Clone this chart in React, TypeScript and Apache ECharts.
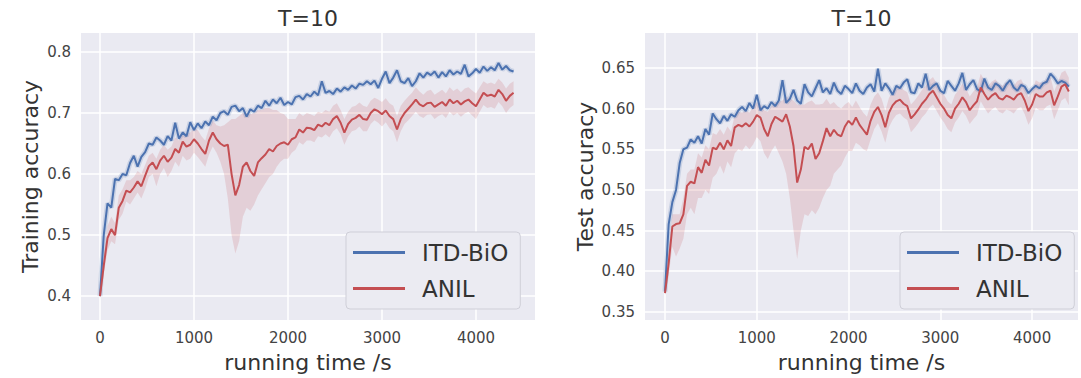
import React, { useEffect, useRef } from "react";
import * as echarts from "echarts";

// sample spacing of the recorded curves (seconds)
const SAMPLE_STEP_S = 40;

const X_TICKS = [0, 1000, 2000, 3000, 4000];
const TRAIN_Y_TICKS = [0.4, 0.5, 0.6, 0.7, 0.8];
const TEST_Y_TICKS = [0.35, 0.4, 0.45, 0.5, 0.55, 0.6, 0.65];

const LEGEND_NAMES = ["ITD-BiO", "ANIL"];
const TITLES = ["T=10", "T=10"];
const Y_NAMES = ["Training accuracy", "Test accuracy"];
const X_NAME = "running time /s";

// Training accuracy (left)
const TRAIN_ITD = [
  0.400, 0.500, 0.552, 0.545, 0.592, 0.590, 0.600, 0.598, 0.618, 0.630,
  0.612, 0.628, 0.636, 0.650, 0.648, 0.660, 0.655, 0.648, 0.662, 0.655,
  0.684, 0.658, 0.668, 0.662, 0.685, 0.672, 0.683, 0.675, 0.686, 0.680,
  0.694, 0.688, 0.700, 0.703, 0.697, 0.710, 0.712, 0.703, 0.708, 0.694,
  0.706, 0.702, 0.712, 0.708, 0.720, 0.712, 0.722, 0.716, 0.725, 0.713,
  0.718, 0.714, 0.726, 0.728, 0.722, 0.731, 0.727, 0.735, 0.729, 0.752,
  0.733, 0.736, 0.731, 0.740, 0.735, 0.742, 0.738, 0.745, 0.740, 0.748,
  0.746, 0.752, 0.747, 0.753, 0.741, 0.756, 0.768, 0.749, 0.758, 0.770,
  0.752, 0.749, 0.757, 0.744, 0.752, 0.765, 0.758, 0.766, 0.762, 0.768,
  0.758, 0.767, 0.760, 0.770, 0.763, 0.768, 0.764, 0.779, 0.760, 0.765,
  0.772, 0.766, 0.776, 0.769, 0.775, 0.770, 0.782, 0.771, 0.777, 0.770,
  0.768,
];
const TRAIN_ANIL = [
  0.400, 0.450, 0.495, 0.510, 0.500, 0.545, 0.556, 0.573, 0.570, 0.578,
  0.588, 0.580, 0.597, 0.613, 0.619, 0.608, 0.622, 0.630, 0.620, 0.627,
  0.641, 0.635, 0.653, 0.645, 0.648, 0.657, 0.650, 0.641, 0.633, 0.655,
  0.668, 0.657, 0.650, 0.646, 0.648, 0.600, 0.565, 0.582, 0.612, 0.619,
  0.605, 0.597, 0.619, 0.626, 0.632, 0.641, 0.637, 0.646, 0.650, 0.652,
  0.648, 0.657, 0.660, 0.673, 0.668, 0.676, 0.675, 0.672, 0.681, 0.678,
  0.684, 0.680, 0.690, 0.695, 0.684, 0.668, 0.682, 0.689, 0.692, 0.697,
  0.690, 0.689, 0.700, 0.706, 0.703, 0.698, 0.704, 0.695, 0.690, 0.673,
  0.690, 0.700, 0.707, 0.714, 0.722, 0.714, 0.711, 0.716, 0.717, 0.710,
  0.714, 0.718, 0.712, 0.722, 0.716, 0.720, 0.714, 0.719, 0.722, 0.716,
  0.711, 0.722, 0.733, 0.728, 0.730, 0.727, 0.738, 0.731, 0.720, 0.728,
  0.733,
];
const TRAIN_ANIL_LOW = [
  0.395, 0.435, 0.475, 0.490, 0.485, 0.525, 0.535, 0.555, 0.550, 0.560,
  0.570, 0.560, 0.575, 0.595, 0.600, 0.580, 0.600, 0.610, 0.595, 0.605,
  0.620, 0.612, 0.630, 0.622, 0.625, 0.635, 0.628, 0.620, 0.612, 0.632,
  0.645, 0.635, 0.620, 0.600, 0.560, 0.500, 0.470, 0.490, 0.530, 0.545,
  0.540, 0.550, 0.565, 0.575, 0.585, 0.595, 0.600, 0.612, 0.620, 0.625,
  0.625, 0.635, 0.640, 0.652, 0.648, 0.655, 0.655, 0.652, 0.662, 0.660,
  0.665, 0.660, 0.670, 0.675, 0.665, 0.648, 0.662, 0.670, 0.672, 0.678,
  0.670, 0.670, 0.682, 0.688, 0.684, 0.678, 0.685, 0.675, 0.670, 0.652,
  0.670, 0.682, 0.688, 0.695, 0.702, 0.695, 0.692, 0.697, 0.698, 0.690,
  0.695, 0.698, 0.692, 0.702, 0.696, 0.700, 0.694, 0.699, 0.702, 0.696,
  0.690, 0.702, 0.713, 0.708, 0.710, 0.707, 0.718, 0.711, 0.700, 0.708,
  0.713,
];
const TRAIN_ANIL_HIGH = [
  0.405, 0.465, 0.515, 0.530, 0.520, 0.565, 0.575, 0.590, 0.590, 0.595,
  0.605, 0.600, 0.615, 0.630, 0.635, 0.625, 0.640, 0.648, 0.640, 0.645,
  0.660, 0.655, 0.670, 0.665, 0.668, 0.675, 0.672, 0.662, 0.655, 0.675,
  0.688, 0.680, 0.678, 0.680, 0.685, 0.690, 0.690, 0.695, 0.700, 0.700,
  0.698, 0.700, 0.705, 0.705, 0.708, 0.708, 0.705, 0.705, 0.700, 0.698,
  0.690, 0.690, 0.690, 0.700, 0.695, 0.700, 0.698, 0.695, 0.702, 0.700,
  0.705, 0.702, 0.712, 0.716, 0.705, 0.690, 0.702, 0.710, 0.712, 0.717,
  0.712, 0.710, 0.720, 0.725, 0.722, 0.718, 0.724, 0.716, 0.712, 0.695,
  0.712, 0.720, 0.727, 0.733, 0.742, 0.735, 0.730, 0.736, 0.738, 0.730,
  0.734, 0.738, 0.732, 0.742, 0.736, 0.740, 0.734, 0.740, 0.742, 0.737,
  0.732, 0.742, 0.752, 0.748, 0.750, 0.747, 0.756, 0.750, 0.740, 0.748,
  0.752,
];

// Test accuracy (right)
const TEST_ITD = [
  0.375, 0.458, 0.485, 0.500, 0.533, 0.550, 0.552, 0.562, 0.558, 0.566,
  0.557, 0.575, 0.568, 0.594, 0.587, 0.582, 0.591, 0.585, 0.593, 0.590,
  0.598, 0.602, 0.597, 0.607, 0.600, 0.617, 0.598, 0.603, 0.600, 0.608,
  0.603, 0.610, 0.635, 0.607, 0.612, 0.623, 0.610, 0.606, 0.630, 0.620,
  0.615, 0.625, 0.635, 0.620, 0.625, 0.618, 0.632, 0.622, 0.618, 0.628,
  0.624, 0.619, 0.631, 0.622, 0.618, 0.626, 0.630, 0.621, 0.649, 0.622,
  0.631, 0.625, 0.617, 0.628, 0.625, 0.632, 0.636, 0.620, 0.619, 0.631,
  0.626, 0.643, 0.623, 0.628, 0.631, 0.622, 0.619, 0.634, 0.628, 0.622,
  0.631, 0.644, 0.623, 0.630, 0.635, 0.624, 0.621, 0.637, 0.626, 0.623,
  0.631, 0.628, 0.622, 0.630, 0.635, 0.626, 0.622, 0.629, 0.627, 0.619,
  0.624, 0.628, 0.625, 0.631, 0.633, 0.643, 0.638, 0.631, 0.634, 0.632,
  0.627,
];
const TEST_ANIL = [
  0.373, 0.410, 0.455, 0.458, 0.459, 0.470, 0.505, 0.510, 0.508, 0.528,
  0.521, 0.537, 0.530, 0.552, 0.550, 0.558, 0.550, 0.561, 0.554, 0.577,
  0.580, 0.578, 0.582, 0.578, 0.584, 0.592, 0.589, 0.575, 0.566, 0.581,
  0.590, 0.587, 0.584, 0.593, 0.578, 0.554, 0.509, 0.525, 0.553, 0.550,
  0.557, 0.538, 0.545, 0.560, 0.576, 0.566, 0.574, 0.568, 0.566, 0.578,
  0.585, 0.580, 0.589, 0.580, 0.574, 0.568, 0.585, 0.596, 0.602, 0.592,
  0.577, 0.595, 0.604, 0.609, 0.611, 0.606, 0.603, 0.588, 0.593, 0.599,
  0.606, 0.611, 0.618, 0.622, 0.614, 0.606, 0.600, 0.592, 0.588, 0.600,
  0.606, 0.614, 0.608, 0.598, 0.604, 0.609, 0.626, 0.618, 0.611, 0.616,
  0.619, 0.613, 0.611, 0.616, 0.614, 0.611, 0.617, 0.619, 0.610, 0.597,
  0.605, 0.618, 0.615, 0.615, 0.620, 0.622, 0.604, 0.615, 0.627, 0.630,
  0.621,
];
const TEST_ANIL_LOW = [
  0.370, 0.395, 0.430, 0.418, 0.428, 0.440, 0.470, 0.478, 0.470, 0.490,
  0.490, 0.500, 0.495, 0.515, 0.520, 0.530, 0.520, 0.535, 0.528, 0.545,
  0.550, 0.548, 0.555, 0.550, 0.556, 0.565, 0.560, 0.545, 0.538, 0.548,
  0.555, 0.545, 0.535, 0.520, 0.490, 0.450, 0.415, 0.450, 0.470, 0.468,
  0.475, 0.470, 0.478, 0.490, 0.500, 0.505, 0.520, 0.525, 0.530, 0.540,
  0.548, 0.548, 0.558, 0.555, 0.550, 0.548, 0.562, 0.575, 0.582, 0.572,
  0.558, 0.577, 0.586, 0.592, 0.594, 0.589, 0.586, 0.571, 0.576, 0.582,
  0.589, 0.594, 0.601, 0.605, 0.597, 0.589, 0.583, 0.575, 0.571, 0.583,
  0.589, 0.597, 0.591, 0.581, 0.587, 0.592, 0.609, 0.601, 0.594, 0.599,
  0.602, 0.596, 0.594, 0.599, 0.597, 0.594, 0.600, 0.602, 0.593, 0.580,
  0.588, 0.601, 0.598, 0.598, 0.603, 0.605, 0.587, 0.598, 0.610, 0.613,
  0.604,
];
const TEST_ANIL_HIGH = [
  0.378, 0.425, 0.470, 0.470, 0.470, 0.490, 0.520, 0.525, 0.525, 0.545,
  0.540, 0.555, 0.550, 0.570, 0.568, 0.575, 0.568, 0.578, 0.572, 0.592,
  0.596, 0.595, 0.598, 0.595, 0.602, 0.608, 0.605, 0.598, 0.596, 0.603,
  0.608, 0.608, 0.610, 0.615, 0.612, 0.610, 0.605, 0.605, 0.605, 0.608,
  0.610, 0.605, 0.605, 0.606, 0.612, 0.605, 0.608, 0.603, 0.600, 0.605,
  0.608, 0.602, 0.610, 0.602, 0.595, 0.590, 0.605, 0.615, 0.620, 0.612,
  0.597, 0.613, 0.621, 0.626, 0.628, 0.623, 0.620, 0.605, 0.610, 0.616,
  0.623, 0.628, 0.635, 0.639, 0.631, 0.623, 0.617, 0.609, 0.605, 0.617,
  0.623, 0.631, 0.625, 0.615, 0.621, 0.626, 0.643, 0.635, 0.628, 0.633,
  0.636, 0.630, 0.628, 0.633, 0.631, 0.628, 0.634, 0.636, 0.627, 0.614,
  0.622, 0.635, 0.632, 0.632, 0.637, 0.639, 0.621, 0.632, 0.644, 0.647,
  0.638,
];

const BLUE = "#4C72B0";
const RED = "#C44E52";
const BG = "#EAEAF2";
const FONT = "DejaVu Sans";

const timeOf = (i: number) => i * SAMPLE_STEP_S;
const pairs = (vals: number[]) => vals.map((v, i) => [timeOf(i), v]);

function bandSeries(k: number, lo: number[], hi: number[]) {
  return {
    type: "custom",
    name: "band-" + k,
    xAxisIndex: k,
    yAxisIndex: k,
    silent: true,
    clip: true,
    z: 1,
    data: [[0, lo[0]]],
    renderItem: (_params: any, api: any) => {
      const pts: number[][] = [];
      for (let i = 0; i < hi.length; i++) pts.push(api.coord([timeOf(i), hi[i]]));
      for (let i = lo.length - 1; i >= 0; i--) pts.push(api.coord([timeOf(i), lo[i]]));
      return {
        type: "polygon",
        shape: { points: pts },
        style: { fill: "rgba(196,78,82,0.17)", stroke: "none" },
      };
    },
  };
}

function buildSeries(k: number, itd: number[], anil: number[], lo: number[], hi: number[]) {
  const common = {
    type: "line",
    xAxisIndex: k,
    yAxisIndex: k,
    symbol: "none",
    silent: true,
  };
  return [
    bandSeries(k, lo, hi),
    {
      ...common,
      name: "halo-" + k,
      data: pairs(itd),
      lineStyle: { width: 5, color: "rgba(76,114,176,0.2)" },
      z: 2,
    },
    {
      ...common,
      name: LEGEND_NAMES[0],
      data: pairs(itd),
      color: BLUE,
      lineStyle: { width: 2, color: BLUE },
      z: 3,
    },
    {
      ...common,
      name: LEGEND_NAMES[1],
      data: pairs(anil),
      color: RED,
      lineStyle: { width: 2, color: RED },
      z: 4,
    },
  ];
}

function xAxis(k: number, min: number, max: number) {
  return {
    gridIndex: k,
    type: "value",
    min,
    max,
    axisLine: { show: false },
    axisTick: { show: false, customValues: X_TICKS },
    axisLabel: {
      customValues: X_TICKS,
      color: "#444",
      fontSize: 15,
      fontFamily: FONT,
      margin: 10,
      formatter: (v: number) => String(v),
    },
    splitLine: { show: true, lineStyle: { color: "#ffffff", width: 1.5 } },
    name: X_NAME,
    nameLocation: "middle",
    nameGap: 31,
    nameTextStyle: { color: "#333", fontSize: 22, fontFamily: FONT },
  };
}

function yAxis(k: number, min: number, max: number, ticks: number[], digits: number, gap: number) {
  return {
    gridIndex: k,
    type: "value",
    min,
    max,
    axisLine: { show: false },
    axisTick: { show: false, customValues: ticks },
    axisLabel: {
      customValues: ticks,
      color: "#444",
      fontSize: 15,
      fontFamily: FONT,
      margin: 10,
      formatter: (v: number) => v.toFixed(digits),
    },
    splitLine: { show: true, lineStyle: { color: "#ffffff", width: 1.5 } },
    name: Y_NAMES[k],
    nameLocation: "middle",
    nameGap: gap,
    nameTextStyle: { color: "#333", fontSize: 22, fontFamily: FONT },
  };
}

function legend(left: number) {
  return {
    left,
    top: 232,
    orient: "vertical",
    data: LEGEND_NAMES,
    selectedMode: false,
    icon: "rect",
    itemWidth: 52,
    itemHeight: 3,
    itemGap: 13,
    padding: [9, 12, 9, 7],
    backgroundColor: "#EBEBF2",
    borderColor: "#CFCFD8",
    borderWidth: 1,
    borderRadius: 4,
    textStyle: { color: "#333", fontSize: 23, fontFamily: FONT, padding: [0, 0, 0, 12] },
  };
}

export default function App() {
  const ref = useRef<HTMLDivElement>(null);
  useEffect(() => {
    if (!ref.current) return;
    const chart = echarts.init(ref.current, null, { renderer: "svg" });
    const grids = [
      { left: 81, top: 33, width: 454, height: 289 },
      { left: 645, top: 33, width: 433, height: 289 },
    ];
    chart.setOption({
      animation: false,
      backgroundColor: "#ffffff",
      grid: grids.map((g) => ({ ...g, show: true, backgroundColor: BG, borderWidth: 0 })),
      xAxis: [xAxis(0, -202, 4628), xAxis(1, -218, 4500)],
      yAxis: [
        yAxis(0, 0.361, 0.831, TRAIN_Y_TICKS, 1, 40),
        yAxis(1, 0.34, 0.693, TEST_Y_TICKS, 2, 49),
      ],
      legend: [legend(346), legend(900)],
      graphic: grids.map((g, k) => ({
        type: "text",
        x: g.left + g.width / 2,
        y: 18,
        style: {
          text: TITLES[k],
          fill: "#333",
          fontSize: 22,
          fontFamily: FONT,
          textAlign: "center",
          textVerticalAlign: "middle",
        },
      })),
      series: [
        ...buildSeries(0, TRAIN_ITD, TRAIN_ANIL, TRAIN_ANIL_LOW, TRAIN_ANIL_HIGH),
        ...buildSeries(1, TEST_ITD, TEST_ANIL, TEST_ANIL_LOW, TEST_ANIL_HIGH),
      ],
    });
    return () => chart.dispose();
  }, []);
  return (
    <div
      ref={ref}
      style={{ position: "fixed", left: 0, top: 0, width: 1081, height: 378, background: "#fff" }}
    />
  );
}
